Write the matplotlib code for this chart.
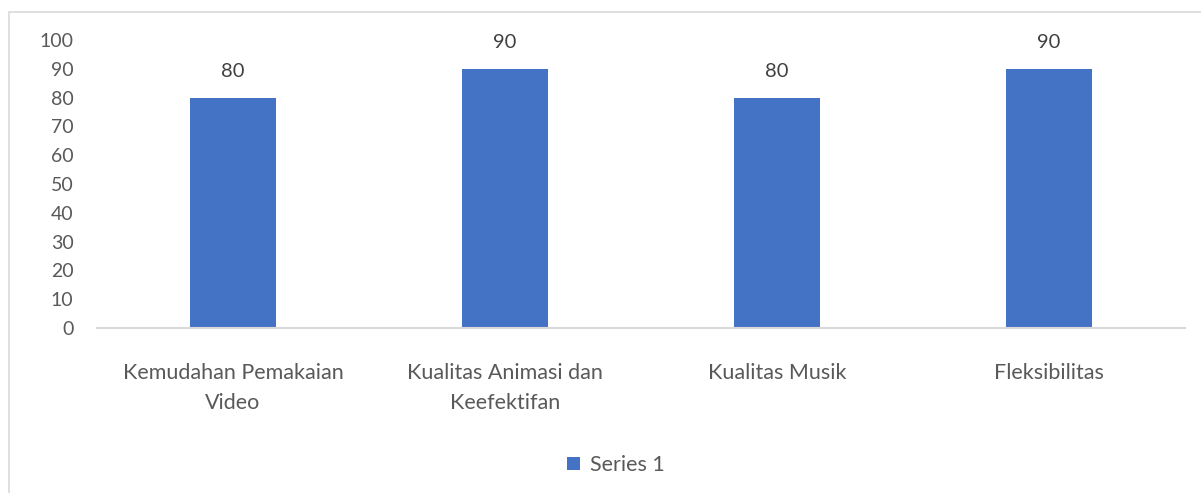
import matplotlib.pyplot as plt
from matplotlib.patches import Rectangle

categories = ['Kemudahan Pemakaian\nVideo', 'Kualitas Animasi dan\nKeefektifan',
              'Kualitas Musik', 'Fleksibilitas']
values = [80, 90, 80, 90]
series_name = 'Series 1'

plt.rcParams['font.family'] = ['Lato', 'DejaVu Sans']
text_color = '#595959'
bar_color = '#4472C4'

W, H = 1201, 493
fig = plt.figure(figsize=(W / 100, H / 100), dpi=100)

# chart border (only left and top are visible in the reference)
fig.patches.append(Rectangle((9 / W, -0.1), 1.2, (H - 12) / H + 0.1,
                             transform=fig.transFigure, fill=False,
                             edgecolor='#D9D9D9', linewidth=1.2))

ax = fig.add_axes([97 / W, 1 - 328 / H, (1185 - 97) / W, (328 - 40) / H])
x = range(len(categories))
bars = ax.bar(x, values, width=0.316, color=bar_color, label=series_name)

for b, v in zip(bars, values):
    ax.annotate(str(v), (b.get_x() + b.get_width() / 2, v),
                xytext=(0, 13), textcoords='offset points',
                ha='center', va='bottom', fontsize=14.5, color='#404040')

ax.set_xlim(-0.5, len(categories) - 0.5)
ax.set_ylim(0, 100)
ax.set_yticks(range(0, 101, 10))
ax.set_xticks(list(x))
ax.set_xticklabels(categories, linespacing=1.65)
ax.tick_params(axis='y', length=0, pad=17, labelsize=14, labelcolor=text_color)
ax.tick_params(axis='x', length=0, pad=25, labelsize=15.5, labelcolor=text_color)

for side in ['top', 'right', 'left']:
    ax.spines[side].set_visible(False)
ax.spines['bottom'].set_color('#D9D9D9')
ax.spines['bottom'].set_linewidth(1.5)

fig.legend(loc='center', bbox_to_anchor=(616 / W, 1 - 465 / H), frameon=False,
           fontsize=15.5, labelcolor=text_color, handlelength=0.6, handleheight=0.6,
           handletextpad=0.5)

fig.savefig('out.png', dpi=100)
